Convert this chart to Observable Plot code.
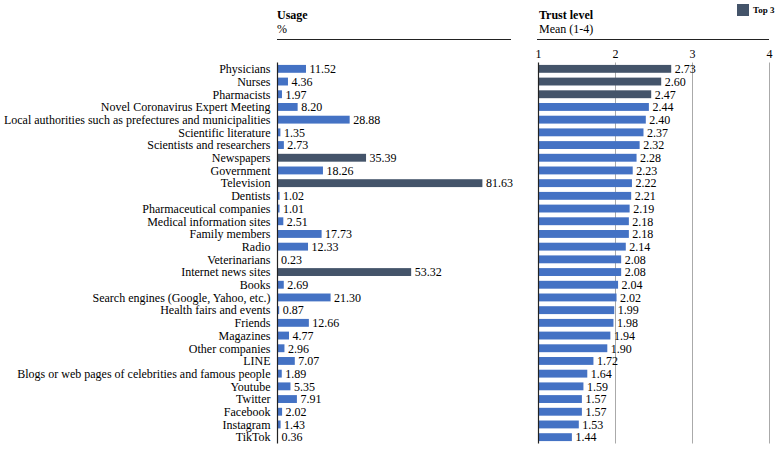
<!DOCTYPE html>
<html>
<head>
<meta charset="utf-8">
<script src="https://cdn.jsdelivr.net/npm/d3@7"></script>
<script src="https://cdn.jsdelivr.net/npm/@observablehq/plot@0.6"></script>
<style>
  html, body { margin: 0; padding: 0; background: #fff; }
  #wrap { position: relative; width: 778px; height: 450px; font-family: "Liberation Serif", "DejaVu Serif", serif; color: #000; }
  #wrap svg { position: absolute; top: 0; }
  .hdr { position: absolute; font-size: 12px; line-height: 14px; }
  .hdr b { font-weight: bold; }
  .hline { position: absolute; top: 39px; height: 0; border-top: 1.5px solid #222; }
  .legend { position: absolute; left: 737px; top: 4px; font-size: 9px; font-weight: bold; display: flex; align-items: center; }
  .legend span.sw { display: inline-block; width: 12px; height: 12px; background: #44546A; margin-right: 4px; }
</style>
</head>
<body>
<div id="wrap">
  <div class="hdr" style="left:277px; top:8px;"><b>Usage</b><br>%</div>
  <div class="hline" style="left:277px; width:234px;"></div>
  <div class="hdr" style="left:539px; top:8px;"><b>Trust level</b><br>Mean (1-4)</div>
  <div class="hline" style="left:537px; width:232px;"></div>
  <div class="legend"><span class="sw"></span>Top 3</div>
</div>
<script>
const categories = [
  "Physicians", "Nurses", "Pharmacists", "Novel Coronavirus Expert Meeting",
  "Local authorities such as prefectures and municipalities", "Scientific literature",
  "Scientists and researchers", "Newspapers", "Government", "Television", "Dentists",
  "Pharmaceutical companies", "Medical information sites", "Family members", "Radio",
  "Veterinarians", "Internet news sites", "Books", "Search engines (Google, Yahoo, etc.)",
  "Health fairs and events", "Friends", "Magazines", "Other companies", "LINE",
  "Blogs or web pages of celebrities and famous people", "Youtube", "Twitter",
  "Facebook", "Instagram", "TikTok"
];
const usage = [11.52, 4.36, 1.97, 8.20, 28.88, 1.35, 2.73, 35.39, 18.26, 81.63, 1.02,
  1.01, 2.51, 17.73, 12.33, 0.23, 53.32, 2.69, 21.30, 0.87, 12.66, 4.77, 2.96, 7.07,
  1.89, 5.35, 7.91, 2.02, 1.43, 0.36];
const trust = [2.73, 2.60, 2.47, 2.44, 2.40, 2.37, 2.32, 2.28, 2.23, 2.22, 2.21, 2.19,
  2.18, 2.18, 2.14, 2.08, 2.08, 2.04, 2.02, 1.99, 1.98, 1.94, 1.90, 1.72, 1.64, 1.59,
  1.57, 1.57, 1.53, 1.44];
const usageTop3 = ["Television", "Internet news sites", "Newspapers"];
const trustTop3 = ["Physicians", "Nurses", "Pharmacists"];
const trustTicks = [1, 2, 3, 4];

const blue = "#4472C4", dark = "#44546A";
const FONT = '"Liberation Serif", "DejaVu Serif", serif';
const rows = categories.map((c, i) => ({name: c, usage: usage[i], trust: trust[i]}));

const left = Plot.plot({
  width: 520, height: 450,
  marginLeft: 277, marginRight: 9, marginTop: 62.5, marginBottom: 6.5,
  x: {domain: [0, 93], axis: null},
  y: {domain: categories, paddingInner: 0.38, paddingOuter: 0.19, round: false, label: null},
  style: {fontFamily: FONT, fontSize: "12px", color: "#000"},
  marks: [
    Plot.barX(rows, {y: "name", x: "usage", fill: d => usageTop3.includes(d.name) ? dark : blue}),
    Plot.ruleX([0], {stroke: "#222", strokeWidth: 1.2}),
    Plot.text(rows, {y: "name", x: "usage", text: d => d.usage.toFixed(2), dx: 3, textAnchor: "start", fontSize: 12, fill: "#000"}),
    Plot.axisY({tickSize: 0, tickPadding: 7, fontSize: 12, label: null})
  ]
});
left.style.left = "0px";

const right = Plot.plot({
  width: 258, height: 450,
  marginLeft: 18, marginRight: 9, marginTop: 62.5, marginBottom: 6.5,
  x: {domain: [1, 4], label: null},
  y: {domain: categories, paddingInner: 0.38, paddingOuter: 0.19, round: false, axis: null},
  style: {fontFamily: FONT, fontSize: "12px", color: "#000"},
  marks: [
    Plot.ruleX([2, 3, 4], {stroke: "#aaa", strokeWidth: 1}),
    Plot.barX(rows, {y: "name", x1: 1, x2: "trust", fill: d => trustTop3.includes(d.name) ? dark : blue}),
    Plot.ruleX([1], {stroke: "#222", strokeWidth: 1.2}),
    Plot.text(rows, {y: "name", x: "trust", text: d => d.trust.toFixed(2), dx: 3, textAnchor: "start", fontSize: 12, fill: "#000"}),
    Plot.axisX({anchor: "top", ticks: trustTicks, tickFormat: d => String(d), tickSize: 0, tickPadding: 5, fontSize: 12, label: null})
  ]
});
right.style.left = "520px";

const wrap = document.getElementById("wrap");
wrap.appendChild(left);
wrap.appendChild(right);
</script>
</body>
</html>
